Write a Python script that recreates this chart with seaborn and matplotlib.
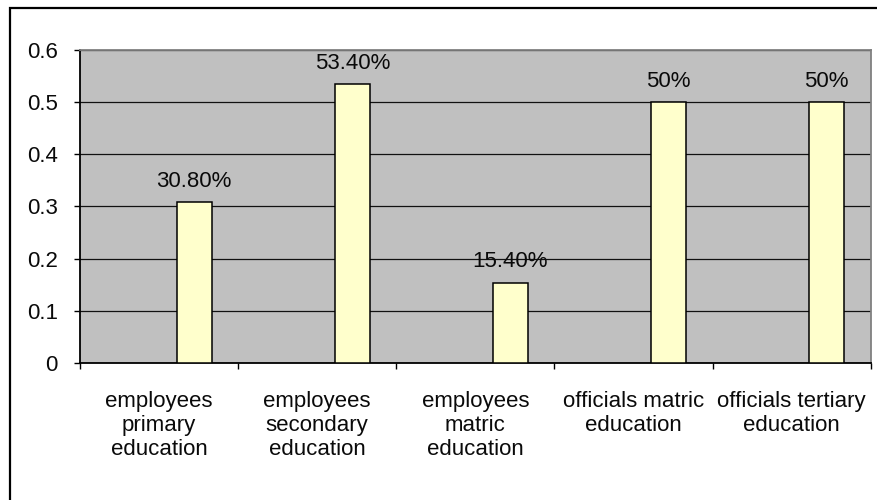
import matplotlib
matplotlib.use("Agg")
import matplotlib.pyplot as plt
from matplotlib.patches import Rectangle
import numpy as np
import pandas as pd
import seaborn as sns

# Share of each group by education level
categories = [
    "employees\nprimary\neducation",
    "employees\nsecondary\neducation",
    "employees\nmatric\neducation",
    "officials matric\neducation",
    "officials tertiary\neducation",
]
values = [0.308, 0.534, 0.154, 0.50, 0.50]
value_labels = ["30.80%", "53.40%", "15.40%", "50%", "50%"]
y_ticks = [0, 0.1, 0.2, 0.3, 0.4, 0.5, 0.6]
y_tick_labels = ["0", "0.1", "0.2", "0.3", "0.4", "0.5", "0.6"]

sns.set_style("ticks")
plt.rcParams["font.family"] = ["Liberation Sans", "DejaVu Sans"]
FS = 16

df = pd.DataFrame({"category": categories, "value": values})

fig = plt.figure(figsize=(8.77, 5.00), dpi=100)
W, H = 877, 500
ax = fig.add_axes([80 / W, (H - 363) / H, (870.7 - 80) / W, (363 - 50) / H])

# bars take the third slot of a three-slot cluster (1.5-bar gap)
slot = 1 / 4.5
sns.barplot(data=df, x="category", y="value", ax=ax, width=slot,
            color="#FFFFCC", edgecolor="black", linewidth=1.1,
            saturation=1, zorder=3)
for bar in ax.patches:
    bar.set_x(bar.get_x() + slot)

ax.bar_label(ax.containers[0], labels=value_labels, padding=7.5,
             fontsize=FS, color="#0a0a0a", zorder=4)

ax.set_facecolor("#C0C0C0")
ax.set_xlim(-0.5, len(categories) - 0.5)
ax.set_ylim(0, 0.6)
ax.set_yticks(y_ticks)
ax.set_yticklabels(y_tick_labels, fontsize=FS, color="#0a0a0a")
ax.yaxis.grid(True, color="#111111", linewidth=0.9, zorder=1)
ax.set_axisbelow(True)

# ticks at category boundaries, labels at centres
ax.set_xticks(np.arange(-0.5, len(categories)), labels=[""] * (len(categories) + 1))
ax.set_xticks(np.arange(len(categories)), labels=categories, minor=True)
ax.tick_params(axis="x", which="major", length=4.5, width=1.0, color="black",
               direction="out")
ax.tick_params(axis="x", which="minor", length=0, pad=20, labelsize=FS,
               labelcolor="#0a0a0a")
for t in ax.get_xticklabels(minor=True):
    t.set_linespacing(1.2)
ax.tick_params(axis="y", length=4.5, width=1.0, color="black", pad=11.5)

ax.set_xlabel("")
ax.set_ylabel("")

for side in ("left", "bottom"):
    ax.spines[side].set_color("black")
    ax.spines[side].set_linewidth(1.3)
for side in ("top", "right"):
    ax.spines[side].set_visible(True)
    ax.spines[side].set_color("#808080")
    ax.spines[side].set_linewidth(1.3)

# outer chart frame
fig.patches.append(Rectangle((10 / W, -0.1), 1.2, 1.1 - 8 / H,
                             transform=fig.transFigure, fill=False,
                             edgecolor="black", linewidth=1.6))

fig.savefig("out.png", dpi=100, facecolor="white")
